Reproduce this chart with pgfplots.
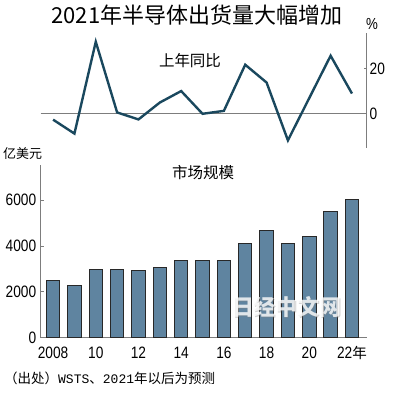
\documentclass[border=0pt]{standalone}
\usepackage{fontspec}
\setmainfont{Liberation Sans}
\newfontfamily\cjk{Noto Sans CJK SC}
\newfontfamily\mono{Liberation Mono}
\newfontfamily\cond[FakeStretch=0.83]{Liberation Sans}
\usepackage{pgfplots}
\pgfplotsset{compat=1.18}
\definecolor{barfill}{RGB}{95,132,160}
\definecolor{barline}{RGB}{40,40,40}
\definecolor{linec}{RGB}{26,72,94}
\definecolor{axgray}{RGB}{125,125,125}
\begin{document}
\begin{tikzpicture}[x=1pt,y=1pt]
\path[use as bounding box] (0,0) rectangle (400,-393);
% bottom: market size
\begin{axis}[at={(40.7pt,-337.7pt)}, anchor=south west, scale only axis,
  width=326pt, height=172.7pt,
  xmin=2007.42, xmax=2022.69, ymin=0, ymax=7540,
  axis x line*=bottom, axis y line*=left,
  axis line style={axgray, line width=0.9pt},
  xtick={2008,2010,2012,2014,2016,2018,2020,2022},
  xticklabels={2008,10,12,14,16,18,20,{22{\cjk\fontsize{14.5}{15}\selectfont 年}}},
  ytick={0,2000,4000,6000},
  /pgf/number format/assume math mode=true,
  /pgf/number format/1000 sep={},
  x tick style={draw=none},
  y tick style={axgray, line width=0.9pt},
  tick align=inside, major tick length=3pt,
  tick label style={font=\cond\fontsize{16.5}{17}\selectfont, text=black},
  yticklabel style={xshift=-1pt},
  xticklabel style={anchor=base, yshift=-20.6pt},
]
\addplot[ybar, bar width=13.5pt, fill=barfill, draw=barline, line width=1pt]
 coordinates {(2008,2486) (2009,2263) (2010,2983) (2011,2995) (2012,2916)
 (2013,3056) (2014,3358) (2015,3352) (2016,3389) (2017,4122) (2018,4688)
 (2019,4123) (2020,4404) (2021,5530) (2022,6015)};
\end{axis}
% top: year-on-year
\begin{axis}[at={(40.7pt,-148pt)}, anchor=south west, scale only axis,
  width=326pt, height=115pt,
  xmin=2007.42, xmax=2022.69, ymin=-15.4, ymax=35.7,
  axis x line=none, axis y line*=right,
  axis line style={axgray, line width=0.9pt},
  ytick={0,20},
  /pgf/number format/assume math mode=true,
  y tick style={axgray, line width=0.9pt},
  tick align=inside, major tick length=3pt,
  tick label style={font=\cond\fontsize{16.5}{17}\selectfont, text=black},
  yticklabel style={xshift=-0.5pt},
  clip=false,
]
\draw[axgray, line width=0.8pt] (axis cs:2007.42,0) -- (axis cs:2022.69,0);
\addplot[linec, line width=2.4pt, line join=miter, mark=none]
 coordinates {(2008,-2.8) (2009,-9.0) (2010,31.8) (2011,0.4) (2012,-2.7)
 (2013,4.8) (2014,9.9) (2015,-0.2) (2016,1.1) (2017,21.6) (2018,13.7)
 (2019,-12.0) (2020,6.8) (2021,25.6) (2022,8.8)};
\end{axis}
% texts
\node[font=\cjk\fontsize{22}{24}\selectfont] at (197,-15) {2021年半导体出货量大幅增加};
\node[font=\cond\fontsize{16}{17}\selectfont] at (372,-24) {\%};
\node[font=\cjk\fontsize{15.5}{17}\selectfont] at (190,-61) {上年同比};
\node[font=\cjk\fontsize{13}{15}\selectfont, anchor=west, inner sep=0pt] at (3,-154) {亿美元};
\node[font=\cjk\fontsize{15.5}{17}\selectfont] at (203,-173) {市场规模};
\node[font=\cjk\bfseries\fontsize{22}{24}\selectfont, text=gray, opacity=0.35] at (288,-308) {日经中文网};
\node[font=\cjk\bfseries\fontsize{22}{24}\selectfont, text=white, opacity=0.8] at (287,-307) {日经中文网};
\node[font=\cjk\fontsize{13.5}{15}\selectfont, anchor=west, inner sep=0pt] at (4,-378)
 {（出处）{\mono\fontsize{13}{15}\selectfont WSTS}、{\mono\fontsize{13}{15}\selectfont 2021}年以后为预测};
\end{tikzpicture}
\end{document}
